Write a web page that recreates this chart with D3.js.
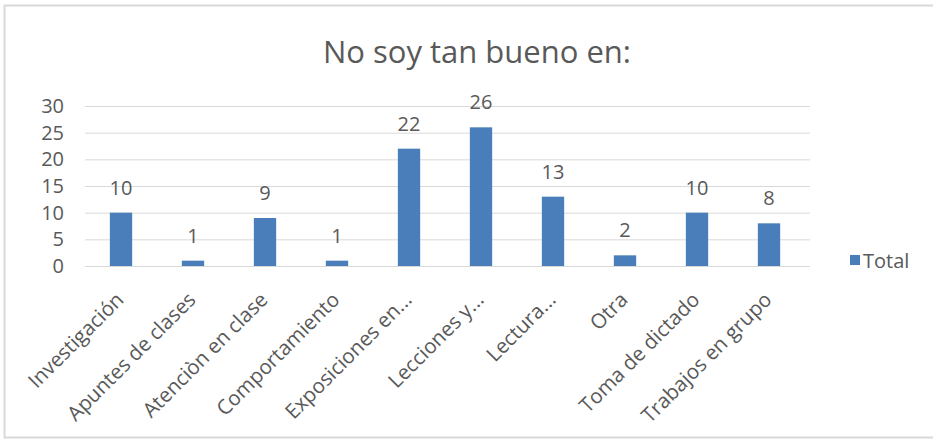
<!DOCTYPE html>
<html><head><meta charset="utf-8">
<script src="https://cdn.jsdelivr.net/npm/d3@7/dist/d3.min.js"></script>
<style>body{margin:0;background:#fff;} text{font-family:"Open Sans","Noto Sans",sans-serif;}</style>
</head><body>
<svg id="c" width="933" height="443"></svg>
<script>
const categories = ["Investigación","Apuntes de clases","Atenciòn en clase","Comportamiento","Exposiciones en...","Lecciones y...","Lectura...","Otra","Toma de dictado","Trabajos en grupo"];
const values = [10,1,9,1,22,26,13,2,10,8];
const yTicks = [0,5,10,15,20,25,30];
const title = "No soy tan bueno en:";
const seriesName = "Total";

const svg = d3.select("#c");
const color = "#4a7ebb";
const textColor = "#595959";

svg.append("rect").attr("x",4.5).attr("y",5.5).attr("width",930).attr("height",432)
  .attr("fill","#fff").attr("stroke","#d9d9d9").attr("stroke-width",2);

const x = d3.scaleBand().domain(categories).range([85,805]).paddingInner(0.69).paddingOuter(0.345);
const y = d3.scaleLinear().domain([0,30]).range([266,106]);

svg.append("text").attr("x",477).attr("y",63).attr("text-anchor","middle")
  .attr("font-size",31).attr("fill",textColor).text(title);

const grid = svg.append("g");
grid.selectAll("line").data(yTicks).join("line")
  .attr("x1",85).attr("x2",810).attr("y1",d=>y(d)+0.5).attr("y2",d=>y(d)+0.5)
  .attr("stroke","#d9d9d9").attr("stroke-width",1);

const yAxis = svg.append("g").attr("transform","translate(64,0)")
  .call(d3.axisLeft(y).tickValues(yTicks).tickSize(0).tickPadding(0));
yAxis.select(".domain").remove();
yAxis.selectAll("text").attr("font-size",20).attr("fill",textColor)
  .attr("font-family","'Open Sans','Noto Sans',sans-serif");

svg.append("g").selectAll("rect").data(values).join("rect")
  .attr("x",(d,i)=>x(categories[i])).attr("width",x.bandwidth())
  .attr("y",d=>y(d)).attr("height",d=>y(0)-y(d)).attr("fill",color);

svg.append("g").selectAll("text").data(values).join("text")
  .attr("x",(d,i)=>x(categories[i])+x.bandwidth()/2).attr("y",d=>y(d)-18)
  .attr("text-anchor","middle").attr("font-size",20).attr("fill",textColor).text(d=>d);

const xAxis = svg.append("g").attr("transform","translate(0,266)")
  .call(d3.axisBottom(x).tickSize(0).tickPadding(0));
xAxis.select(".domain").remove();
xAxis.selectAll("text")
  .attr("font-size",20.5).attr("fill",textColor)
  .attr("font-family","'Open Sans','Noto Sans',sans-serif")
  .attr("text-anchor","end").attr("dy",null).attr("y",0)
  .attr("transform","translate(4,35) rotate(-45)");

const lg = svg.append("g");
lg.append("rect").attr("x",850).attr("y",255).attr("width",10).attr("height",10).attr("fill",color);
lg.append("text").attr("x",863).attr("y",268).attr("font-size",20).attr("fill",textColor).text(seriesName);
</script>
</body></html>
